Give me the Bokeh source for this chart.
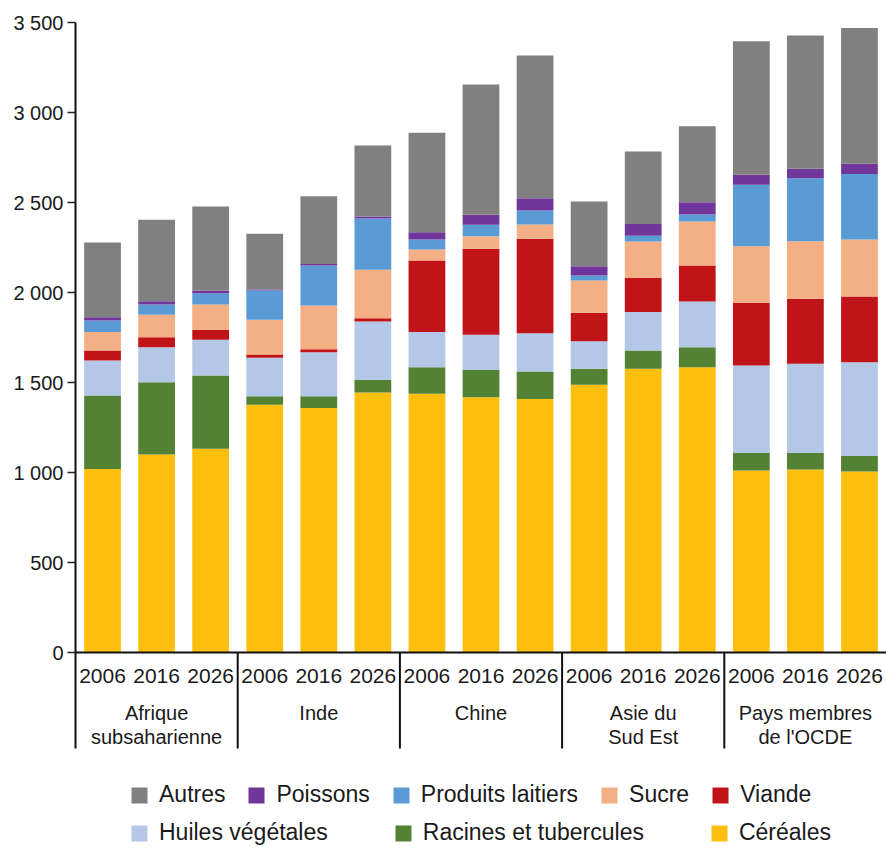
from bokeh.plotting import figure
from bokeh.models import (FactorRange, Range1d, FixedTicker, Legend, LegendItem,
                          ColumnDataSource)
from bokeh.core.properties import value
from bokeh.embed import file_html
from bokeh.resources import INLINE

regions = ["Afrique\nsubsaharienne", "Inde", "Chine", "Asie du\nSud Est", "Pays membres\nde l'OCDE"]
years = ["2006", "2016", "2026"]

cereales = [1020, 1100, 1132, 1376, 1359, 1444, 1437, 1418, 1409, 1487, 1576, 1585, 1011, 1017, 1006]
racines = [408, 402, 407, 48, 65, 71, 148, 153, 152, 89, 102, 111, 98, 92, 85]
huiles = [194, 194, 198, 213, 244, 324, 195, 194, 213, 153, 213, 254, 485, 495, 522]
viande = [56, 56, 56, 19, 17, 18, 398, 478, 524, 158, 191, 200, 347, 361, 365]
sucre = [102, 124, 140, 192, 243, 269, 61, 70, 80, 180, 201, 244, 316, 320, 316]
laitiers = [64, 57, 63, 163, 222, 285, 55, 63, 78, 27, 32, 39, 341, 350, 365]
poissons = [19, 19, 15, 6, 9, 11, 41, 56, 68, 52, 66, 69, 56, 52, 56]
autres = [415, 452, 467, 309, 376, 395, 552, 724, 793, 360, 402, 422, 742, 741, 755]

series_keys = ["cereales", "racines", "huiles", "viande", "sucre", "laitiers", "poissons", "autres"]
series_labels = ["Céréales", "Racines et tubercules", "Huiles végétales", "Viande", "Sucre",
                 "Produits laitiers", "Poissons", "Autres"]
series_colors = ["#fcbf0e", "#548235", "#b4c7e7", "#c11418", "#f4af84", "#5b9bd5", "#70369c", "#808080"]

y_ticks = [0, 500, 1000, 1500, 2000, 2500, 3000, 3500]
y_tick_labels = ["0", "500", "1 000", "1 500", "2 000", "2 500", "3 000", "3 500"]

FONT = "Liberation Sans"

# ---- layout (pixels) ----
W, H = 886, 848
FRAME_LEFT, FRAME_TOP = 75, 22
Y_MAX = 3500
ZERO_PX_FROM_BOTTOM = 196          # the value 0 sits 196px above the canvas bottom
frame_h = H - FRAME_TOP
px_per_unit = (frame_h - ZERO_PX_FROM_BOTTOM) / Y_MAX
y_min = -ZERO_PX_FROM_BOTTOM / px_per_unit

def below(px):
    """data y for a position px pixels below the zero line"""
    return -px / px_per_unit

x = [(r, yr) for r in regions for yr in years]
src = ColumnDataSource(data=dict(x=x, cereales=cereales, racines=racines, huiles=huiles,
                                 viande=viande, sucre=sucre, laitiers=laitiers,
                                 poissons=poissons, autres=autres))

p = figure(x_range=FactorRange(factors=x, factor_padding=0, group_padding=0, range_padding=0),
           y_range=Range1d(y_min, Y_MAX), width=W, height=H,
           output_backend="svg", toolbar_location=None,
           min_border_left=FRAME_LEFT, min_border_right=0, min_border_top=FRAME_TOP,
           min_border_bottom=0)
p.outline_line_color = None
p.background_fill_color = "white"
p.border_fill_color = "white"
p.xgrid.grid_line_color = None
p.ygrid.grid_line_color = None

rs = p.vbar_stack(series_keys, x="x", width=0.68, color=series_colors, line_color=None, source=src)

# y axis (its line also serves as the left group separator below zero)
ya = p.yaxis[0]
ya.ticker = FixedTicker(ticks=y_ticks)
ya.bounds = (below(96), Y_MAX)
ya.major_label_overrides = {t: l for t, l in zip(y_ticks, y_tick_labels)}
ya.minor_tick_line_color = None
ya.major_tick_in = 0
ya.major_tick_out = 8
ya.major_tick_line_color = "#222222"
ya.major_tick_line_width = 1.5
ya.axis_line_color = "#111111"
ya.axis_line_width = 2
ya.major_label_text_font = FONT
ya.major_label_text_font_size = "20px"
ya.major_label_text_color = "#1a1a1a"
ya.major_label_standoff = 4

# x axis, fixed at zero
xa = p.xaxis[0]
xa.fixed_location = 0
xa.axis_line_color = "#111111"
xa.axis_line_width = 2
xa.major_tick_line_color = None
xa.major_tick_in = 0
xa.major_tick_out = 0
xa.minor_tick_line_color = None
xa.major_label_standoff = 16
xa.major_label_text_font = FONT
xa.major_label_text_font_size = "21px"
xa.major_label_text_color = "#1a1a1a"
xa.group_text_color = None
xa.separator_line_color = None

# group labels
n = len(years)
grp_src = ColumnDataSource(data=dict(x=[(r, years[n // 2]) for r in regions], text=regions,
                                     y=[below(49)] * len(regions)))
p.text(x="x", y="y", text="text", source=grp_src, text_font=value(FONT),
       text_font_size="20px", text_align="center", text_baseline="top",
       text_line_height=1.13, text_color="#1a1a1a")

# group separators between regions
bounds = [n * i for i in range(1, len(regions))]
sep_src = ColumnDataSource(data=dict(x0=bounds, x1=bounds, y0=[0] * len(bounds),
                                     y1=[below(96)] * len(bounds)))
p.segment(x0="x0", y0="y0", x1="x1", y1="y1", source=sep_src, line_color="#111111", line_width=2)

# legend
by_label = dict(zip(series_labels, rs))
row1 = ["Autres", "Poissons", "Produits laitiers", "Sucre", "Viande"]
row2 = ["Huiles végétales", "Racines et tubercules", "Céréales"]

def make_legend(labels, loc, spacing):
    return Legend(items=[LegendItem(label=l, renderers=[by_label[l]]) for l in labels],
                  orientation="horizontal", location=loc, spacing=spacing,
                  glyph_width=20, glyph_height=20, label_standoff=10,
                  label_text_font=FONT, label_text_font_size="23px", label_text_color="#1a1a1a",
                  padding=0, margin=0, border_line_color=None, background_fill_alpha=0,
                  label_height=20)

p.add_layout(make_legend(row1, (54, 40), 21))
p.add_layout(make_legend(row2, (54, 2), 65))

open("out.html", "w").write(file_html(p, INLINE))
